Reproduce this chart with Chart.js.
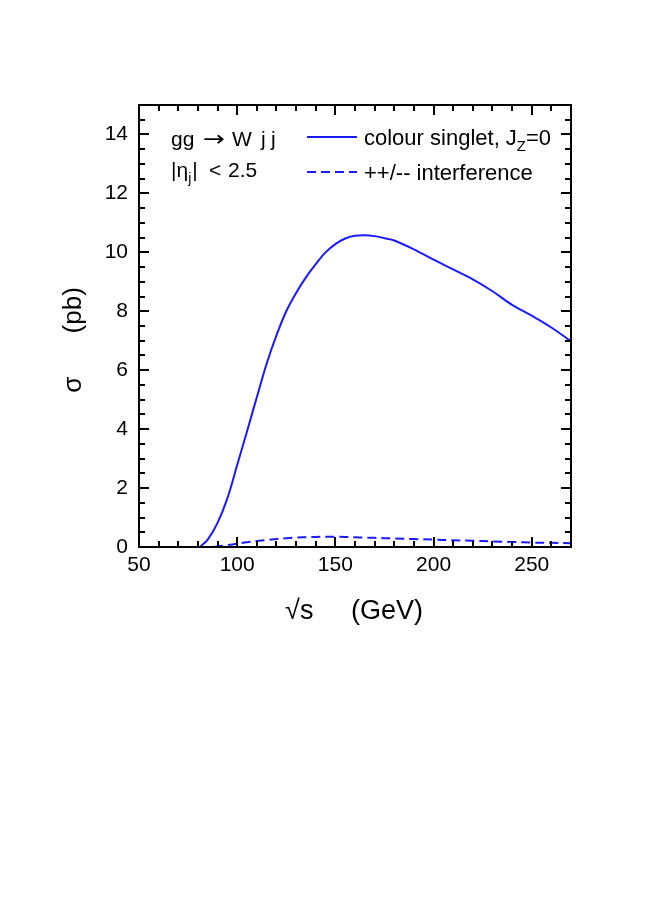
<!DOCTYPE html>
<html>
<head>
<meta charset="utf-8">
<script src="https://cdn.jsdelivr.net/npm/chart.js@4/dist/chart.umd.min.js"></script>
<style>
  body { margin: 0; background: #fff; }
  canvas { display: block; }
</style>
</head>
<body>
<canvas id="chart" width="649" height="918"></canvas>
<script>
// sqrt(s) in GeV
const sqrtS = [81, 85, 90, 95, 100, 105, 110, 115, 120, 125, 130, 135, 140, 145, 150,
               155, 160, 165, 170, 175, 180, 190, 200, 210, 220, 230, 240, 250, 260, 270];
// sigma (pb), colour singlet Jz=0
const singlet = [0, 0.25, 0.82, 1.65, 2.78, 3.92, 5.08, 6.22, 7.18, 8.0, 8.62, 9.15, 9.6, 10.0, 10.28,
                 10.47, 10.56, 10.58, 10.55, 10.48, 10.4, 10.1, 9.75, 9.42, 9.08, 8.68, 8.22, 7.85, 7.45, 6.98];
// sigma (pb), ++/-- interference
const interference = [0, 0, 0.02, 0.06, 0.11, 0.16, 0.2, 0.24, 0.27, 0.3, 0.32, 0.33, 0.34, 0.35, 0.35,
                      0.34, 0.33, 0.32, 0.31, 0.3, 0.29, 0.27, 0.25, 0.23, 0.21, 0.19, 0.17, 0.15, 0.14, 0.13];

const xTicks = [50, 100, 150, 200, 250];
const yTicks = [0, 2, 4, 6, 8, 10, 12, 14];

const FONT = '"Liberation Sans", Arial, Helvetica, sans-serif';
const BLUE = '#1a1aff';

// frame, inward ticks on all sides, annotations
const framePlugin = {
    id: 'frame',
    afterDraw(chart) {
        const ctx = chart.ctx;
        const a = chart.chartArea;
        const xs = chart.scales.x, ys = chart.scales.y;
        ctx.save();
        ctx.strokeStyle = '#000';
        ctx.lineWidth = 2;
        ctx.strokeRect(a.left, a.top, a.right - a.left, a.bottom - a.top);

        ctx.beginPath();
        for (let v = 50; v <= 270; v += 10) {
            const px = Math.round(xs.getPixelForValue(v));
            const len = v % 50 === 0 ? 10 : 6;
            ctx.moveTo(px, a.bottom); ctx.lineTo(px, a.bottom - len);
            ctx.moveTo(px, a.top); ctx.lineTo(px, a.top + len);
        }
        for (let v = 0; v <= 15; v += 0.5) {
            const py = Math.round(ys.getPixelForValue(v));
            const len = v % 2 === 0 ? 10 : 6;
            ctx.moveTo(a.left, py); ctx.lineTo(a.left + len, py);
            ctx.moveTo(a.right, py); ctx.lineTo(a.right - len, py);
        }
        ctx.stroke();

        // axis titles
        ctx.fillStyle = '#000';
        ctx.font = '27px ' + FONT;
        ctx.textAlign = 'center';
        ctx.textBaseline = 'alphabetic';
        ctx.fillText('\u221As     (GeV)', 354, 619);
        ctx.save();
        ctx.translate(81, 340);
        ctx.rotate(-Math.PI / 2);
        ctx.font = '26px ' + FONT;
        ctx.fillText('\u03C3      (pb)', 0, 0);
        ctx.restore();

        // process label
        ctx.textAlign = 'left';
        ctx.font = '21px ' + FONT;
        ctx.fillText('gg', 171, 146);
        ctx.save();
        ctx.translate(203, 146);
        ctx.scale(1.25, 1);
        ctx.font = '21px "DejaVu Sans", sans-serif';
        ctx.fillText('\u2192', 0, 0);
        ctx.restore();
        ctx.font = '21px ' + FONT;
        ctx.fillText('W', 232, 146);
        ctx.fillText('j', 261, 146);
        ctx.fillText('j', 271, 146);

        let x = 171;
        ctx.fillText('|\u03B7', x, 177);
        x += ctx.measureText('|\u03B7').width;
        ctx.font = '14px ' + FONT;
        ctx.fillText('j', x, 183);
        x += ctx.measureText('j').width + 1;
        ctx.font = '21px ' + FONT;
        ctx.fillText('|', x, 177);
        ctx.fillText('<', 209, 177);
        ctx.fillText('2.5', 228, 177);

        // legend
        chart.data.datasets.forEach((ds, i) => {
            const ly = 137 + i * 35;
            ctx.strokeStyle = ds.borderColor;
            ctx.lineWidth = ds.borderWidth;
            ctx.setLineDash(ds.borderDash || []);
            ctx.beginPath();
            ctx.moveTo(307, ly); ctx.lineTo(357, ly);
            ctx.stroke();
            ctx.setLineDash([]);
            const parts = ds.label.split('_');
            let tx = 364;
            ctx.font = '22px ' + FONT;
            ctx.fillText(parts[0], tx, ly + 8);
            if (parts.length > 1) {
                tx += ctx.measureText(parts[0]).width;
                ctx.font = '15px ' + FONT;
                ctx.fillText(parts[1][0], tx, ly + 14);
                tx += ctx.measureText(parts[1][0]).width;
                ctx.font = '22px ' + FONT;
                ctx.fillText(parts[1].slice(1), tx, ly + 8);
            }
        });
        ctx.restore();
    }
};

new Chart(document.getElementById('chart'), {
    type: 'line',
    data: {
        datasets: [{
            label: 'colour singlet, J_Z=0',
            data: sqrtS.map((x, i) => ({ x: x, y: singlet[i] })),
            borderColor: BLUE,
            borderWidth: 2,
            pointRadius: 0,
            fill: false,
            tension: 0.35
        }, {
            label: '++/-- interference',
            data: sqrtS.map((x, i) => ({ x: x, y: interference[i] })),
            borderColor: BLUE,
            borderWidth: 2,
            borderDash: [9, 5],
            pointRadius: 0,
            fill: false,
            tension: 0.35
        }]
    },
    options: {
        responsive: false,
        animation: false,
        devicePixelRatio: 1,
        layout: { padding: { left: 0, right: 78, top: 105, bottom: 311 } },
        plugins: { legend: { display: false }, tooltip: { enabled: false } },
        scales: {
            x: {
                type: 'linear',
                min: 50,
                max: 270,
                afterBuildTicks: s => { s.ticks = xTicks.map(v => ({ value: v })); },
                afterFit: s => { s.height = 60; },
                grid: { display: false, drawTicks: false },
                border: { display: false },
                ticks: { color: '#000', font: { family: FONT, size: 21 }, padding: 6, maxRotation: 0 }
            },
            y: {
                type: 'linear',
                min: 0,
                max: 15,
                afterBuildTicks: s => { s.ticks = yTicks.map(v => ({ value: v })); },
                afterFit: s => { s.width = 139; },
                grid: { display: false, drawTicks: false },
                border: { display: false },
                ticks: { color: '#000', font: { family: FONT, size: 21 }, padding: 11 }
            }
        }
    },
    plugins: [framePlugin]
});
</script>
</body>
</html>
